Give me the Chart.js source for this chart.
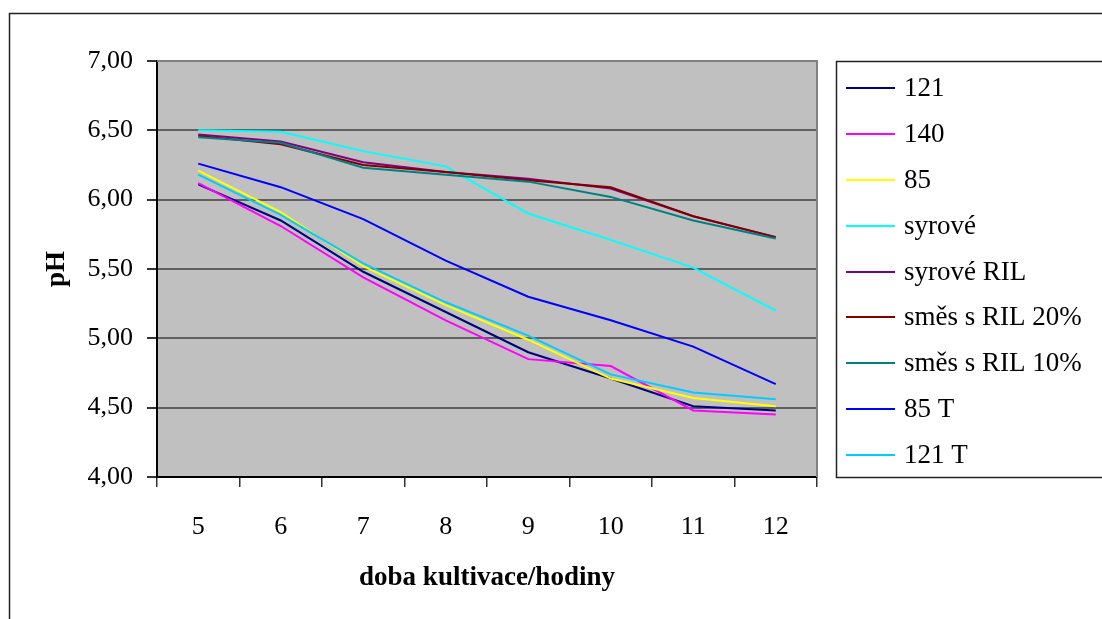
<!DOCTYPE html>
<html lang="cs">
<head>
<meta charset="utf-8">
<title>pH během kultivace</title>
<script src="https://cdn.jsdelivr.net/npm/chart.js@4.4.1/dist/chart.umd.min.js"></script>
<style>
  html, body { margin: 0; padding: 0; background: #ffffff; }
  #wrap { position: relative; width: 1102px; height: 619px; }
</style>
</head>
<body>
<div id="wrap"><canvas id="phChart"></canvas></div>
<script>
// Doba kultivace (hodiny)
const hours = ['5', '6', '7', '8', '9', '10', '11', '12'];

// Naměřené hodnoty pH pro jednotlivé vzorky
const ph121      = [6.11, 5.85, 5.48, 5.19, 4.90, 4.71, 4.51, 4.48];
const ph140      = [6.12, 5.81, 5.44, 5.13, 4.85, 4.80, 4.48, 4.45];
const ph85       = [6.21, 5.91, 5.52, 5.24, 4.99, 4.71, 4.57, 4.51];
const phSyrove   = [6.50, 6.49, 6.35, 6.24, 5.90, 5.71, 5.51, 5.20];
const phSyrRIL   = [6.47, 6.42, 6.27, 6.20, 6.15, 6.08, 5.88, 5.73];
const phSmes20   = [6.46, 6.40, 6.25, 6.20, 6.14, 6.09, 5.88, 5.73];
const phSmes10   = [6.45, 6.41, 6.23, 6.18, 6.13, 6.02, 5.85, 5.72];
const ph85T      = [6.26, 6.09, 5.86, 5.56, 5.30, 5.13, 4.94, 4.67];
const ph121T     = [6.18, 5.89, 5.54, 5.26, 5.02, 4.74, 4.61, 4.56];

const seriesNames = ['121', '140', '85', 'syrové', 'syrové RIL', 'směs s RIL 20%', 'směs s RIL 10%', '85 T', '121 T'];
const seriesValues = [ph121, ph140, ph85, phSyrove, phSyrRIL, phSmes20, phSmes10, ph85T, ph121T];
const seriesColors = ['#000080', '#ff00ff', '#ffff00', '#00ffff', '#800080', '#800000', '#008080', '#0000ff', '#00ccff'];

// Osa y
const yMin = 4, yMax = 7, yStep = 0.5;

const serif = "'Liberation Serif', 'Times New Roman', serif";

// Šedé pozadí grafu a rámečky
const frame = {
  id: 'frame',
  beforeDraw(chart) {
    const { ctx, chartArea: a } = chart;
    ctx.save();
    ctx.fillStyle = '#c0c0c0';
    ctx.fillRect(a.left, a.top, a.right - a.left, a.bottom - a.top);
    // vnější rámeček oblasti grafu
    ctx.strokeStyle = '#222222';
    ctx.lineWidth = 1.5;
    ctx.strokeRect(9.5, 13.5, chart.width + 20, chart.height + 20);
    ctx.restore();
  },
  afterDatasetsDraw(chart) {
    const { ctx, chartArea: a } = chart;
    ctx.save();
    ctx.strokeStyle = '#808080';
    ctx.lineWidth = 2;
    ctx.beginPath();
    ctx.moveTo(a.left, a.top);
    ctx.lineTo(a.right, a.top);
    ctx.lineTo(a.right, a.bottom);
    ctx.stroke();
    ctx.restore();
  }
};

// Legenda v orámovaném poli vpravo
const boxedLegend = {
  id: 'boxedLegend',
  afterDraw(chart) {
    const { ctx, chartArea: a } = chart;
    const left = a.right + 19;
    const top = a.top;
    const bottom = a.bottom;
    const sets = chart.data.datasets;
    const first = top + 27;
    const step = (bottom - top - 49) / (sets.length - 1);
    ctx.save();
    ctx.strokeStyle = '#222222';
    ctx.lineWidth = 1.5;
    ctx.strokeRect(left + 0.5, top + 0.5, chart.width, bottom - top);
    ctx.font = '27px ' + serif;
    ctx.textBaseline = 'middle';
    ctx.textAlign = 'left';
    sets.forEach((ds, i) => {
      const y = Math.round(first + i * step);
      ctx.strokeStyle = ds.borderColor;
      ctx.lineWidth = 2;
      ctx.beginPath();
      ctx.moveTo(left + 10, y);
      ctx.lineTo(left + 59, y);
      ctx.stroke();
      ctx.fillStyle = '#000000';
      ctx.fillText(ds.label, left + 68, y + 1);
    });
    ctx.restore();
  }
};

const datasets = seriesNames.map((name, i) => ({
  label: name,
  data: seriesValues[i],
  borderColor: seriesColors[i],
  backgroundColor: seriesColors[i],
  borderWidth: 2,
  pointRadius: 0,
  pointHoverRadius: 0,
  tension: 0,
  fill: false,
  order: seriesNames.length - i
}));

new Chart(document.getElementById('phChart'), {
  type: 'line',
  data: { labels: hours, datasets },
  options: {
    responsive: true,
    maintainAspectRatio: false,
    animation: false,
    events: [],
    layout: { padding: { left: 10, top: 61, right: 285, bottom: 0 } },
    plugins: {
      legend: { display: false },
      tooltip: { enabled: false },
      title: { display: false }
    },
    scales: {
      x: {
        type: 'category',
        offset: true,
        grid: {
          offset: true,
          drawOnChartArea: false,
          drawTicks: true,
          tickLength: 10,
          color: '#333333',
          lineWidth: 1.5
        },
        border: { display: true, color: '#000000', width: 2 },
        ticks: {
          color: '#000000',
          font: { family: serif, size: 26 },
          padding: 25,
          maxRotation: 0
        },
        title: {
          display: true,
          text: 'doba kultivace/hodiny',
          color: '#000000',
          font: { family: serif, size: 27, weight: 'bold' },
          padding: { top: 0, bottom: 25 }
        },
        afterFit(scale) { scale.height = 142; }
      },
      y: {
        min: yMin,
        max: yMax,
        grid: {
          color: '#5f5f5f',
          lineWidth: 2,
          tickLength: 10,
          tickColor: '#333333'
        },
        border: { display: true, color: '#000000', width: 2 },
        ticks: {
          stepSize: yStep,
          color: '#000000',
          font: { family: serif, size: 26 },
          padding: 14,
          callback: v => Number(v).toFixed(2).replace('.', ',')
        },
        title: {
          display: true,
          text: 'pH',
          color: '#000000',
          font: { family: serif, size: 27, weight: 'bold' },
          padding: { top: 31, bottom: 0 }
        },
        afterFit(scale) { scale.width = 147; }
      }
    }
  },
  plugins: [frame, boxedLegend]
});
</script>
</body>
</html>
